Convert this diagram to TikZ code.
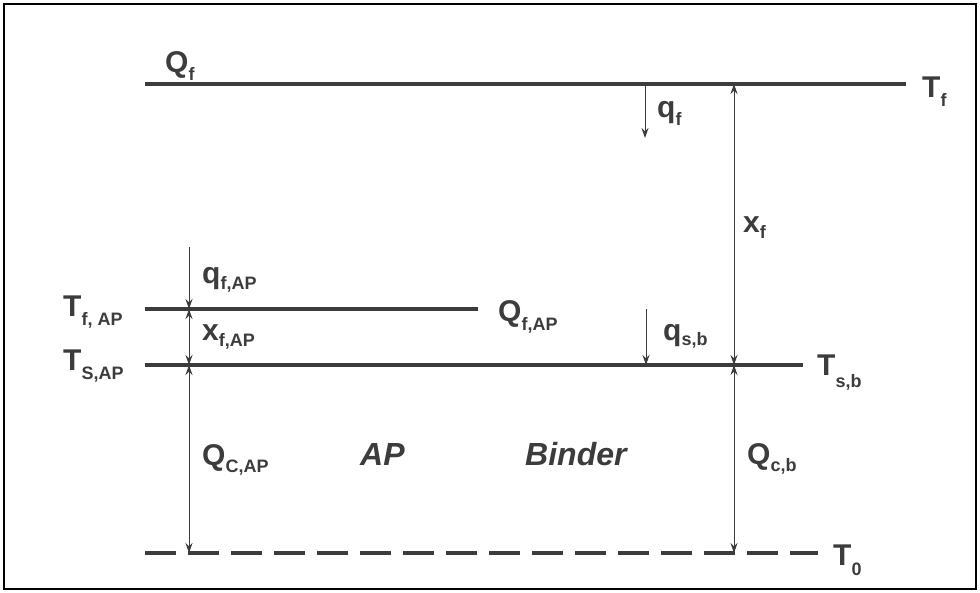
\documentclass[tikz,border=0pt]{standalone}
\usepackage{fontspec}
\setmainfont{Liberation Sans}
\usetikzlibrary{arrows.meta}
\definecolor{ink}{HTML}{3C3C3C}
\newcommand\mysub[2][8pt]{\raisebox{-#1}{\fontsize{18}{20}\selectfont #2}}
\tikzset{
  lbl/.style={anchor=base west, inner sep=0pt, text=ink, font=\fontsize{30}{34}\selectfont\bfseries},
  itlbl/.style={lbl, font=\fontsize{32}{36}\selectfont\bfseries\itshape},
  lvl/.style={line width=4pt, draw=ink},
  lvldash/.style={line width=4pt, draw=ink, dash pattern=on 31pt off 12pt},
  arr/.style={line width=1pt, draw=ink, -{Stealth[length=10pt,width=7pt]}},
  darr/.style={line width=1pt, draw=ink, {Stealth[length=10pt,width=7pt]}-{Stealth[length=10pt,width=7pt]}},
}
\begin{document}
\begin{tikzpicture}[x=1pt,y=-1pt]
\useasboundingbox (0,0) rectangle (980,592);
\draw[line width=2pt, black] (4,4) rectangle (976,589);
% level lines
\coordinate (fL) at (145,84);  \coordinate (fR) at (906,84);
\coordinate (apL) at (145,309); \coordinate (apR) at (478,309);
\coordinate (sL) at (145,365); \coordinate (sR) at (803,365);
\coordinate (oL) at (145,553); \coordinate (oR) at (818,553);
\draw[lvl] (fL) -- (fR);
\draw[lvl] (apL) -- (apR);
\draw[lvl] (sL) -- (sR);
\draw[lvldash] (oL) -- (oR);
% arrow coordinates
\coordinate (qfT) at (645,84);  \coordinate (qfB) at (645,138);
\coordinate (xfT) at (734,84);  \coordinate (xfB) at (734,365);
\coordinate (cbT) at (734,365); \coordinate (cbB) at (734,553);
\coordinate (qsbT) at (646,309); \coordinate (qsbB) at (646,365);
\coordinate (qapT) at (189,247); \coordinate (qapB) at (189,309);
\coordinate (xapT) at (189,309); \coordinate (xapB) at (189,365);
\coordinate (capT) at (189,365); \coordinate (capB) at (189,553);
\draw[arr] (qfT) -- (qfB);
\draw[darr] (xfT) -- (xfB);
\draw[darr] (cbT) -- (cbB);
\draw[arr] (qsbT) -- (qsbB);
\draw[arr] (qapT) -- (qapB);
\draw[darr] (xapT) -- (xapB);
\draw[darr] (capT) -- (capB);
% labels
\node[lbl] (Qf) at (165,72) {Q\mysub{f}};
\node[lbl] (Tf) at (922,97) {T\mysub[9pt]{f}};
\node[lbl] (qf) at (657,117) {q\mysub{f}};
\node[lbl] (xf) at (743,232) {x\mysub[6pt]{f}};
\node[lbl] (TfAP) at (63,316) {T\mysub[9pt]{f, AP}};
\node[lbl] (qfAP) at (202,283) {q\mysub[6pt]{f,AP}};
\node[lbl] (QfAP) at (498,321) {Q\mysub[9pt]{f,AP}};
\node[lbl] (xfAP) at (202,340) {x\mysub[6pt]{f,AP}};
\node[lbl] (TsAP) at (63,370) {T\mysub[9pt]{S,AP}};
\node[lbl] (qsb) at (663,340) {q\mysub[5pt]{s,b}};
\node[lbl] (Tsb) at (817,375) {T\mysub[12pt]{s,b}};
\node[lbl] (QCAP) at (202,465) {Q\mysub[7pt]{C,AP}};
\node[itlbl] (AP) at (360,465) {AP};
\node[itlbl] (Binder) at (525,465) {Binder};
\node[lbl] (Qcb) at (747,464) {Q\mysub[7pt]{c,b}};
\node[lbl] (T0) at (833,565) {T\mysub[10pt]{0}};
\end{tikzpicture}
\end{document}
